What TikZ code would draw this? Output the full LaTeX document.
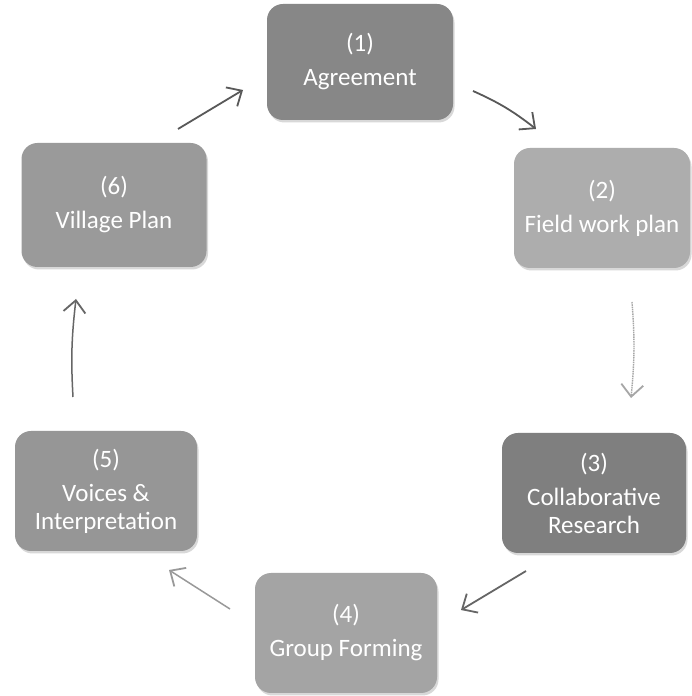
\documentclass[tikz,border=0pt]{standalone}
\usepackage{fontspec}
\setmainfont{Carlito}
\usetikzlibrary{arrows.meta,shadows,bending}
\definecolor{g1}{HTML}{878787}
\definecolor{g2}{HTML}{ADADAD}
\definecolor{g3}{HTML}{7F7F7F}
\definecolor{g4}{HTML}{A4A4A4}
\definecolor{g5}{HTML}{969696}
\definecolor{g6}{HTML}{9A9A9A}
\begin{document}
\begin{tikzpicture}[x=1pt,y=1pt,
  box/.style={rounded corners=16pt, minimum width=184pt, minimum height=120pt,
    text=white, align=center, font=\fontsize{25}{28}\selectfont, inner sep=0pt,
    drop shadow={shadow xshift=1.5pt, shadow yshift=-2.5pt, opacity=0.25, fill=black!60}},
  arr/.style={line width=1.8pt, -{Straight Barb[length=12pt,width=22pt,line width=1.8pt]}},
]
\useasboundingbox[fill=white] (0,0) rectangle (692,696);
\node[box, fill=g1, minimum width=186pt, minimum height=116pt] (n1) at (360,634) {(1)\\[6pt]Agreement};
\node[box, fill=g2, minimum width=176pt] (n2) at (602,488) {(2)\\[6pt]Field work plan};
\node[box, fill=g3] (n3) at (594,203) {(3)\\[6pt]Collaborative\\Research};
\node[box, fill=g4, minimum width=182pt] (n4) at (346,63) {(4)\\[6pt]Group Forming};
\node[box, fill=g5, minimum width=182pt] (n5) at (106,205) {(5)\\[6pt]Voices \&\\Interpretation};
\node[box, fill=g6, minimum width=185pt, minimum height=124pt] (n6) at (114,491) {(6)\\[6pt]Village Plan};

\coordinate (a1s) at (178,567); \coordinate (a1e) at (243,606);
\coordinate (a2s) at (473,605); \coordinate (a2e) at (536,567);
\coordinate (a3s) at (632,394); \coordinate (a3e) at (631,298);
\coordinate (a4s) at (526,125); \coordinate (a4e) at (461,86);
\coordinate (a5s) at (230,87);  \coordinate (a5e) at (169,126);
\coordinate (a6s) at (73,299);  \coordinate (a6e) at (76,397);

\draw[arr, black!65] (a1s) -- (a1e);
\draw[arr, black!65] (a2s) to[bend left=7] (a2e);
\draw[arr, black!35, line width=1.4pt, dash pattern=on 1.5pt off 0.8pt] (a3s) to[bend left=5] (a3e);
\draw[arr, black!60] (a4s) -- (a4e);
\draw[arr, black!40, line width=1.5pt] (a5s) -- (a5e);
\draw[arr, black!60, line width=1.5pt] (a6s) to[bend left=5] (a6e);
\end{tikzpicture}
\end{document}
